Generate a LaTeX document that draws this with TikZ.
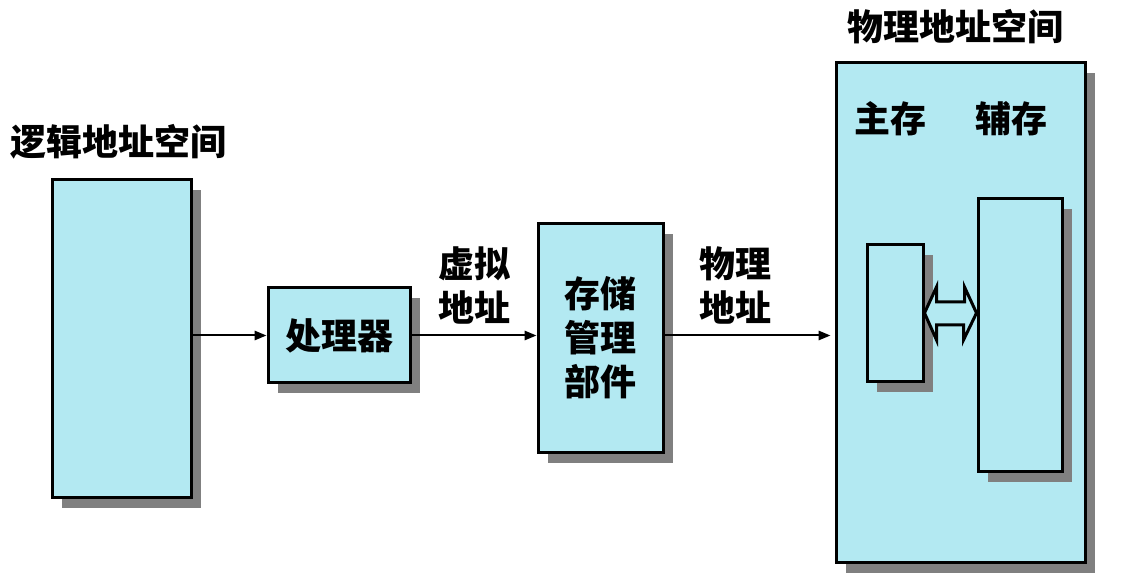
\documentclass[tikz,border=0pt]{standalone}
\usepackage{fontspec}
\setmainfont{Noto Sans CJK SC}
\usetikzlibrary{shadows,arrows.meta,fit}
\definecolor{boxfill}{HTML}{B3E9F2}
\definecolor{shade}{HTML}{808080}
\begin{document}
\begin{tikzpicture}[x=0.75pt,y=-0.75pt,
  box/.style={draw=black, line width=2.25pt, fill=boxfill, inner sep=0pt,
    drop shadow={shadow xshift=7.5pt, shadow yshift=-7.5pt, fill=shade, opacity=1}},
  lbl/.style={font=\fontsize{27}{33}\selectfont\bfseries, align=center, inner sep=0pt},
  arr/.style={line width=1.5pt, -{Triangle[length=9pt,width=7pt]}},
  blockarrow/.style={draw=black, line width=2.25pt, fill=boxfill, line join=miter}]
\useasboundingbox (0,0) rectangle (1129,584);
\fill[white] (0,0) rectangle (1129,584);

% logical address space
\node[box, fit={(52,180)(191,498)}] (L) {};
\node[lbl] (tL) at (119,142) {逻辑地址空间};

% processor
\node[box, fit={(268,288)(410,383)}] (P) {};
\node[lbl] (tPr) at (339,336) {处理器};

% memory management unit
\node[box, fit={(538,224)(663,453)}] (S) {};
\node[lbl] (tS) at (600,338) {存储\\管理\\部件};

% physical address space
\node[box, fit={(836,63)(1085,563)}] (B) {};
\node[lbl] (tP) at (955,27) {物理地址空间};
\node[lbl] (tM) at (890,119) {主存};
\node[lbl] (tA) at (1011,119) {辅存};
\node[box, fit={(867,245)(923,382)}] (M) {};
\node[box, fit={(978,199)(1062,472)}] (A) {};

% connectors
\draw[arr] (L.east |- P.west) -- (P.west);
\draw[arr] (P.east) -- (P.east -| S.west);
\draw[arr] (S.east |- P.east) -- ([xshift=-3pt]B.west |- P.east);

\node[lbl] (tV) at (474,285) {虚拟\\地址};
\node[lbl] (tW) at (735,285) {物理\\地址};

% block double arrow between main and secondary memory
\coordinate (dl) at (M.east |- 0,313);
\coordinate (dr) at (A.west |- 0,313);
\draw[blockarrow] (dl) -- ++(12,-26) -- ++(0,15) -- ([xshift=-9pt,yshift=8.25pt]dr)
  -- ++(0,-15) -- (dr) -- ++(-13,27) -- ++(0,-15) -- ([xshift=9pt,yshift=-9pt]dl)
  -- ++(0,15) -- cycle;
\end{tikzpicture}
\end{document}
